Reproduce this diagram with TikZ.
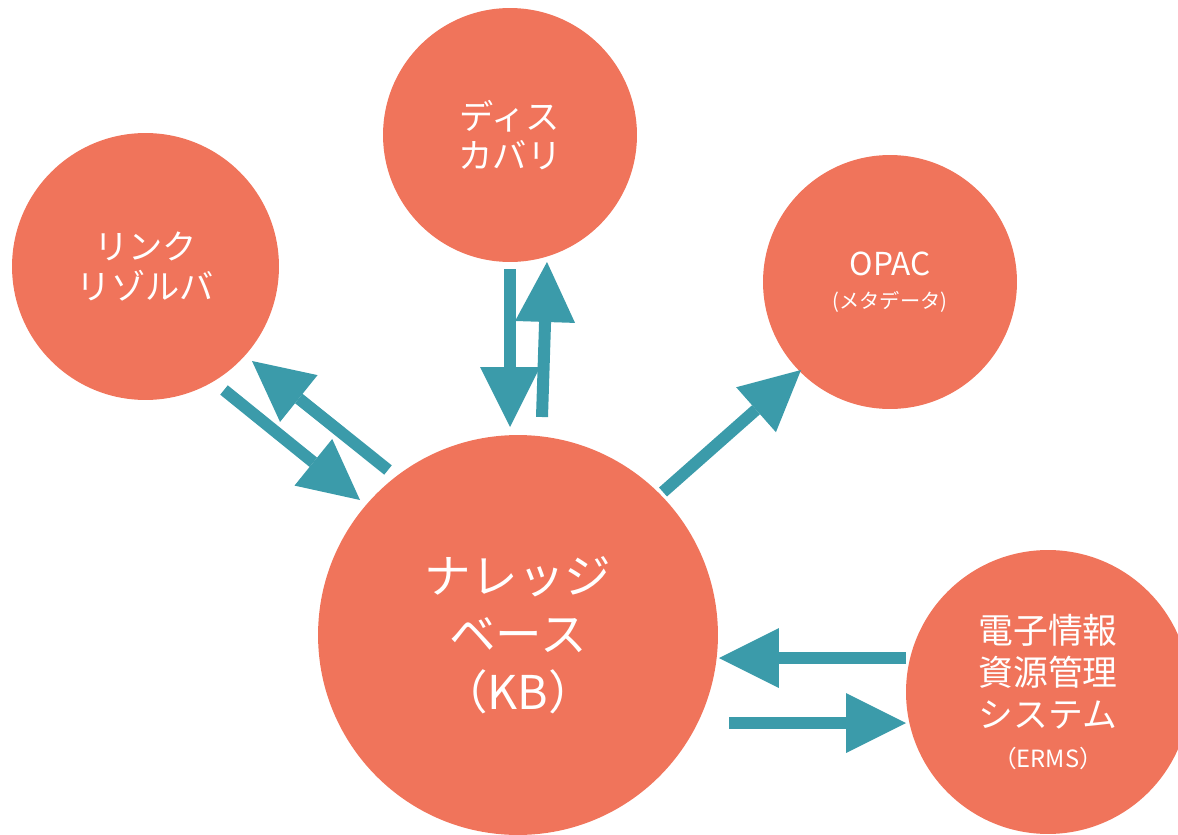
\documentclass[tikz,border=0pt]{standalone}
\usepackage{fontspec}
\newfontfamily\jpfont{Noto Sans CJK JP}
\usetikzlibrary{arrows.meta}
\definecolor{coral}{RGB}{240,116,91}
\definecolor{flowteal}{RGB}{59,155,170}
\tikzset{
  blob/.style={circle, fill=coral, text=white, align=center, inner sep=0pt},
  flow/.style={draw=flowteal, line width=0.24cm,
    -{Triangle[length=1.2cm,width=1.2cm,line width=0pt]}},
}
\begin{document}
\begin{tikzpicture}[x=0.02cm,y=-0.02cm]
   \useasboundingbox (0,0) rectangle (1178,835);
   \clip (0,0) rectangle (1178,835);

   \node[blob, minimum size=8cm,
      font=\jpfont\fontsize{26.5}{33}\selectfont] (kb) at (518,635)
      {ナレッジ\\ベース\\（KB）};
   \node[blob, minimum size=5.08cm,
      font=\jpfont\fontsize{19.5}{22.5}\selectfont] (disc) at (510,135)
      {ディス\\カバリ};
   \node[blob, minimum size=5.34cm,
      font=\jpfont\fontsize{19.5}{22.5}\selectfont] (link) at (145.5,266.5)
      {リンク\\リゾルバ};
   \node[blob, minimum size=5.08cm,
      font=\jpfont\fontsize{18}{19}\selectfont] (opac) at (890,282)
      {OPAC\\{\fontsize{11.5}{13}\selectfont (メタデータ)}};
   \node[blob, minimum size=5.68cm,
      font=\jpfont\fontsize{19.8}{24}\selectfont] (erms) at (1048,692)
      {電子情報\\資源管理\\システム\\[-1pt]{\fontsize{13.5}{15}\selectfont （ERMS）}};

   % arrow ends
   \coordinate (l2kb)   at (224,390);
   \coordinate (l2kbE)  at (360,500);
   \coordinate (kb2l)   at (388,470);
   \coordinate (kb2lE)  at (252,361);
   \coordinate (d2kb)   at (510,269);
   \coordinate (d2kbE)  at (510,427);
   \coordinate (kb2d)   at (542,417);
   \coordinate (kb2dE)  at (547,262);
   \coordinate (kb2o)   at (663,492);
   \coordinate (kb2oE)  at (801,370);
   \coordinate (e2kb)   at (906,658);
   \coordinate (e2kbE)  at (719,658);
   \coordinate (kb2e)   at (729,723);
   \coordinate (kb2eE)  at (906,723);

   \draw[flow] (l2kb) -- (l2kbE);
   \draw[flow] (kb2l) -- (kb2lE);
   \draw[flow] (d2kb) -- (d2kbE);
   \draw[flow] (kb2d) -- (kb2dE);
   \draw[flow] (kb2o) -- (kb2oE);
   \draw[flow] (e2kb) -- (e2kbE);
   \draw[flow] (kb2e) -- (kb2eE);
\end{tikzpicture}
\end{document}
